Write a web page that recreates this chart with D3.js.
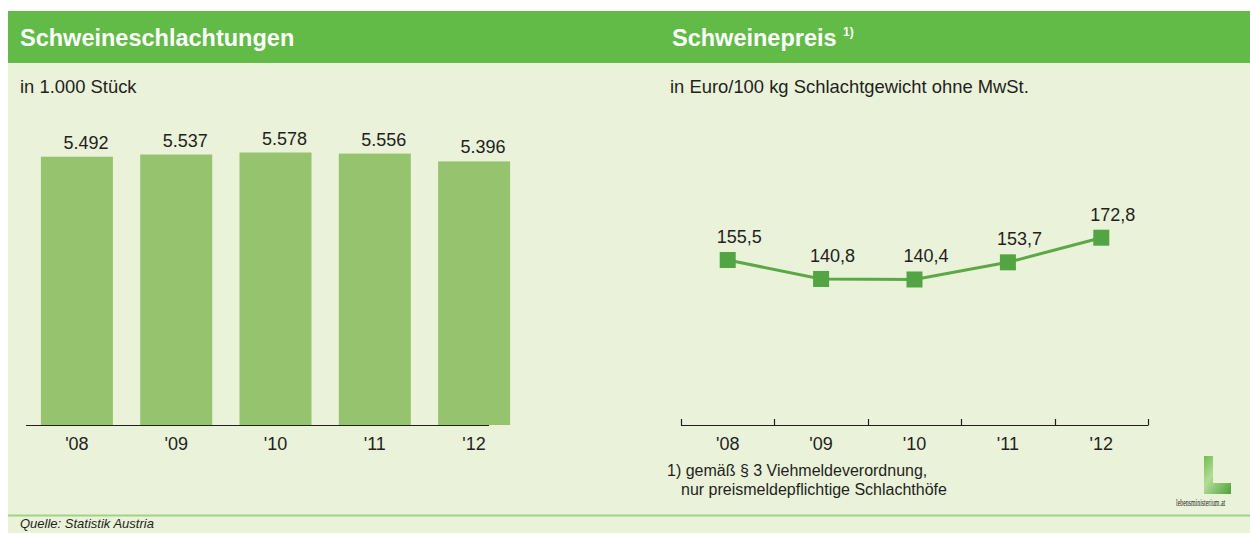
<!DOCTYPE html>
<html>
<head>
<meta charset="utf-8">
<script src="https://cdn.jsdelivr.net/npm/d3@7"></script>
<style>
  html, body { margin: 0; padding: 0; background: #ffffff; }
  svg { display: block; font-family: "Liberation Sans", Arial, sans-serif; }
</style>
</head>
<body>
<svg id="chart" width="1250" height="533"></svg>
<script>
// Years shared by both panels
const years = ["'08", "'09", "'10", "'11", "'12"];
// Pig slaughterings, in 1,000 head
const slaughterValues = [5492, 5537, 5578, 5556, 5396];
// Pig price, EUR per 100 kg carcass weight excl. VAT
const priceValues = [155.5, 140.8, 140.4, 153.7, 172.8];

const deLocale = d3.formatLocale({ decimal: ",", thousands: ".", grouping: [3], currency: ["", "€"] });
const fmtThousands = deLocale.format(",d");
const fmtDecimal = deLocale.format(".1f");

const svg = d3.select("#chart");

const C = {
  header: "#62ba47",
  panel: "#eaf2da",
  bar: "#96c36e",
  line: "#5aa944",
  marker: "#52a542",
  text: "#231f20",
  rule: "#9fd383"
};
const FS = 18;

// Background panel and header band
svg.append("rect").attr("x", 8).attr("y", 11).attr("width", 1242).attr("height", 522).attr("fill", C.panel);
svg.append("rect").attr("x", 8).attr("y", 11).attr("width", 1242).attr("height", 52).attr("fill", C.header);
svg.append("line").attr("x1", 8).attr("x2", 1250).attr("y1", 515.5).attr("y2", 515.5)
  .attr("stroke", C.rule).attr("stroke-width", 2);

// Titles
svg.append("text").attr("x", 20).attr("y", 46).attr("fill", "#fff")
  .attr("font-size", 23.5).attr("font-weight", "bold").text("Schweineschlachtungen");
const t2 = svg.append("text").attr("x", 672).attr("y", 46).attr("fill", "#fff")
  .attr("font-size", 23.5).attr("font-weight", "bold");
t2.append("tspan").text("Schweinepreis ");
t2.append("tspan").attr("font-size", 12).attr("dy", -10).text("1)");

svg.append("text").attr("x", 20).attr("y", 93).attr("fill", C.text).attr("font-size", 18.4).text("in 1.000 Stück");
svg.append("text").attr("x", 670).attr("y", 93).attr("fill", C.text).attr("font-size", 18.4)
  .text("in Euro/100 kg Schlachtgewicht ohne MwSt.");

// ---- Left panel: bar chart ----
const baseY = 425;
const xBar = d3.scaleBand().domain(years).range([27, 524]).paddingInner(0.275).paddingOuter(0.14);
const yBar = d3.scaleLinear().domain([0, 6000]).range([baseY, baseY - 6000 * 0.04885]);

svg.append("line").attr("x1", 26).attr("x2", 489).attr("y1", baseY + 0.5).attr("y2", baseY + 0.5)
  .attr("stroke", C.text).attr("stroke-width", 1);

svg.append("g").selectAll("rect").data(years).join("rect")
  .attr("x", d => xBar(d))
  .attr("width", xBar.bandwidth())
  .attr("y", (d, i) => yBar(slaughterValues[i]))
  .attr("height", (d, i) => baseY - yBar(slaughterValues[i]))
  .attr("fill", C.bar);

svg.append("g").selectAll("text").data(years).join("text")
  .attr("x", d => xBar(d) + xBar.bandwidth() / 2 + 9)
  .attr("y", (d, i) => yBar(slaughterValues[i]) - 8)
  .attr("text-anchor", "middle").attr("font-size", FS).attr("fill", C.text)
  .text((d, i) => fmtThousands(slaughterValues[i]));

svg.append("g").selectAll("text").data(years).join("text")
  .attr("x", d => xBar(d) + xBar.bandwidth() / 2)
  .attr("y", 450)
  .attr("text-anchor", "middle").attr("font-size", FS).attr("fill", C.text)
  .text(d => d);

// ---- Right panel: line chart ----
const xLine = d3.scaleBand().domain(years).range([681, 1148]);
const yLine = d3.scaleLinear().domain([120, 180]).range([305.8, 228.4]);

const axisG = svg.append("g").attr("transform", "translate(0,425)");
axisG.append("line").attr("x1", 681).attr("x2", 1148).attr("y1", 0.5).attr("y2", 0.5)
  .attr("stroke", C.text).attr("stroke-width", 1.2);
const tickPos = years.map(d => xLine(d)).concat([xLine(years[years.length - 1]) + xLine.bandwidth()]);
axisG.selectAll("line.tick").data(tickPos).join("line").attr("class", "tick")
  .attr("x1", d => Math.round(d) + 0.5).attr("x2", d => Math.round(d) + 0.5)
  .attr("y1", 0.5).attr("y2", -6).attr("stroke", C.text).attr("stroke-width", 1.2);

svg.append("g").selectAll("text").data(years).join("text")
  .attr("x", d => xLine(d) + xLine.bandwidth() / 2)
  .attr("y", 450)
  .attr("text-anchor", "middle").attr("font-size", FS).attr("fill", C.text)
  .text(d => d);

const line = d3.line()
  .x((v, i) => xLine(years[i]) + xLine.bandwidth() / 2)
  .y(v => yLine(v));
svg.append("path").datum(priceValues).attr("d", line)
  .attr("fill", "none").attr("stroke", C.line).attr("stroke-width", 3);

const ms = 16;
svg.append("g").selectAll("rect").data(priceValues).join("rect")
  .attr("x", (v, i) => xLine(years[i]) + xLine.bandwidth() / 2 - ms / 2)
  .attr("y", v => yLine(v) - ms / 2)
  .attr("width", ms).attr("height", ms).attr("fill", C.marker);

svg.append("g").selectAll("text").data(priceValues).join("text")
  .attr("x", (v, i) => xLine(years[i]) + xLine.bandwidth() / 2 + 11.5)
  .attr("y", v => yLine(v) - 17)
  .attr("text-anchor", "middle").attr("font-size", FS).attr("fill", C.text)
  .text(v => fmtDecimal(v));

// Footnote
svg.append("text").attr("x", 667).attr("y", 476).attr("font-size", 16).attr("fill", C.text)
  .text("1) gemäß § 3 Viehmeldeverordnung,");
svg.append("text").attr("x", 681).attr("y", 495).attr("font-size", 16).attr("fill", C.text)
  .text("nur preismeldepflichtige Schlachthöfe");

// Ministry logo
const grad = svg.append("defs").append("linearGradient").attr("id", "logoGrad")
  .attr("x1", 0).attr("y1", 0).attr("x2", 1).attr("y2", 1);
grad.append("stop").attr("offset", "0%").attr("stop-color", "#6fbf4a");
grad.append("stop").attr("offset", "40%").attr("stop-color", "#b4dc98");
grad.append("stop").attr("offset", "100%").attr("stop-color", "#4ea33a");
svg.append("path")
  .attr("d", "M1204,456 H1213 V483 H1231 V494 H1204 Z")
  .attr("fill", "url(#logoGrad)");
// Condensed wordmark under the logo
svg.append("g").attr("transform", "translate(1176,506) scale(0.62,1)")
  .append("text").attr("x", 0).attr("y", 0)
  .attr("font-family", "'Liberation Serif', 'DejaVu Serif', serif").attr("font-size", 9.5)
  .attr("fill", C.text).text("lebensministerium.at");

// Source
svg.append("text").attr("x", 20).attr("y", 528).attr("font-size", 13).attr("font-style", "italic")
  .attr("fill", C.text).text("Quelle: Statistik Austria");
</script>
</body>
</html>
